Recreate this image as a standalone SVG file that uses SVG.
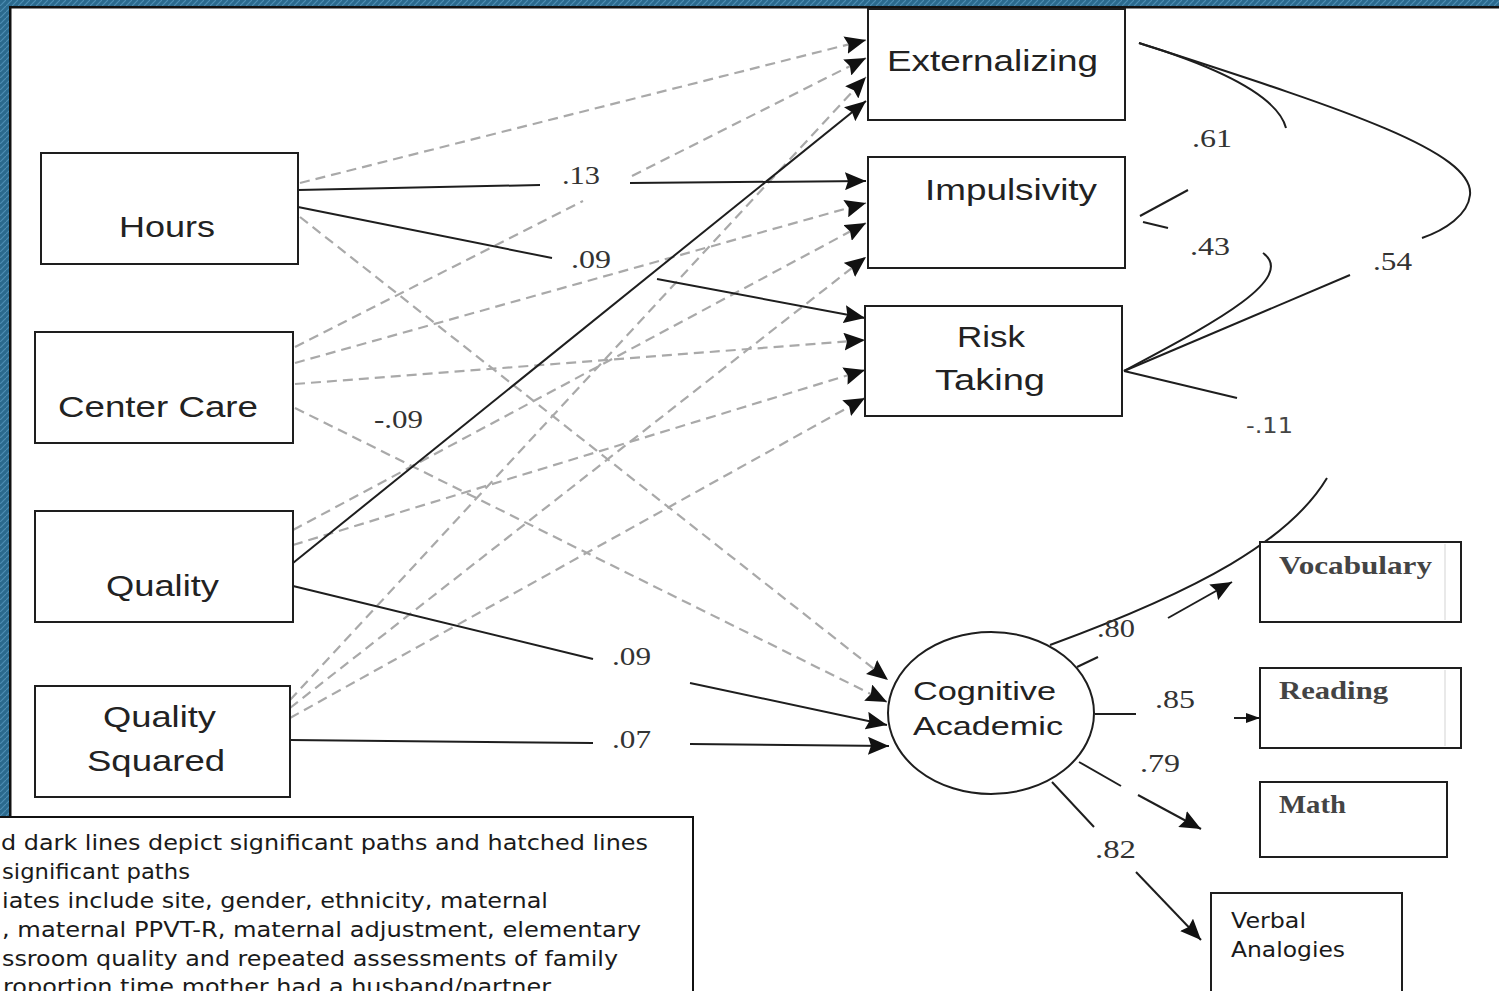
<svg xmlns="http://www.w3.org/2000/svg" width="1499" height="991" viewBox="0 0 1499 991">
<defs>
<pattern id="wv" width="6" height="6" patternUnits="userSpaceOnUse"><rect width="6" height="6" fill="#2b6a8e"/><path d="M0,6 L6,0" stroke="#4d8db3" stroke-width="1.2"/></pattern>
<marker id="ah" viewBox="0 0 21 18" refX="21" refY="9" markerWidth="21" markerHeight="18" markerUnits="userSpaceOnUse" orient="auto"><path d="M0,0 L21,9 L0,18 L3,9 z" fill="#111"/></marker>
<marker id="ahs" viewBox="0 0 14 10" refX="14" refY="5" markerWidth="14" markerHeight="10" markerUnits="userSpaceOnUse" orient="auto"><path d="M0,0 L14,5 L0,10 z" fill="#111"/></marker>
</defs>
<style>
.box{fill:#fff;stroke:#1e1e1e;stroke-width:2}
.nt{font-family:"Liberation Sans",Arial,sans-serif;font-size:29px;fill:#222}
.ot{font-family:"Liberation Serif","Times New Roman",serif;font-size:25px;font-weight:bold;fill:#444}
.vt{font-family:"DejaVu Sans",Verdana,sans-serif;font-size:22px;fill:#1a1a1a}
.lab{font-family:"Liberation Serif","Times New Roman",serif;font-size:25px;fill:#333}
.sol{fill:none;stroke:#1e1e1e;stroke-width:2}
.das{fill:none;stroke:#a9a9a9;stroke-width:2.2;stroke-dasharray:10 6}
.arr{marker-end:url(#ah)}
</style>
<rect width="1499" height="991" fill="#fff"/>
<g id="frame">
<rect x="0" y="0" width="1499" height="6" fill="url(#wv)"/>
<rect x="0" y="0" width="9" height="818" fill="url(#wv)"/>
<rect x="9" y="6" width="1490" height="2.5" fill="#111"/>
<rect x="9" y="6" width="2.5" height="812" fill="#111"/>
</g>
<g id="connectors">
<line class="das arr" x1="300" y1="183" x2="866" y2="40"/>
<line class="das arr" x1="300" y1="217" x2="888" y2="680"/>
<line class="das" x1="295" y1="347" x2="583" y2="201"/>
<line class="das arr" x1="632" y1="176" x2="866" y2="58"/>
<line class="das arr" x1="295" y1="363" x2="866" y2="203"/>
<line class="das arr" x1="295" y1="384" x2="865" y2="340"/>
<line class="das arr" x1="295" y1="408" x2="887" y2="702"/>
<line class="das arr" x1="293" y1="530" x2="866" y2="223"/>
<line class="das arr" x1="293" y1="545" x2="865" y2="370"/>
<line class="das arr" x1="290" y1="700" x2="866" y2="77"/>
<line class="das arr" x1="290" y1="708" x2="866" y2="257"/>
<line class="das arr" x1="290" y1="718" x2="865" y2="398"/>
<line class="sol" x1="298" y1="190" x2="540" y2="185"/>
<line class="sol arr" x1="630" y1="183" x2="866" y2="181"/>
<line class="sol" x1="298" y1="207" x2="552" y2="258"/>
<line class="sol arr" x1="657" y1="279" x2="865" y2="318"/>
<line class="sol arr" x1="293" y1="563" x2="866" y2="101"/>
<line class="sol" x1="293" y1="586" x2="593" y2="659"/>
<line class="sol arr" x1="690" y1="683" x2="887" y2="725"/>
<line class="sol" x1="290" y1="740" x2="593" y2="743"/>
<line class="sol arr" x1="690" y1="744" x2="889" y2="746"/>
<path class="sol" d="M1139,43 Q1275,85 1286,128"/>
<path class="sol" d="M1188,190 L1140,216"/>
<path class="sol" d="M1143,222 L1168,228"/>
<path class="sol" d="M1263,253 C1300,280 1200,330 1124,371"/>
<path class="sol" d="M1139,43 C1330,105 1475,150 1470,195 C1468,215 1445,230 1422,238"/>
<path class="sol" d="M1350,275 L1124,371"/>
<path class="sol" d="M1124,371 L1237,398"/>
<path class="sol" d="M1327,478 C1290,540 1200,590 1050,645"/>
<path class="sol" d="M1077,667 L1098,657"/>
<line class="sol arr" x1="1168" y1="618" x2="1232" y2="582"/>
<path class="sol" d="M1095,714 L1136,714"/>
<line class="sol" x1="1234" y1="718" x2="1260" y2="718" marker-end="url(#ahs)"/>
<path class="sol" d="M1079,762 L1121,786"/>
<line class="sol arr" x1="1138" y1="795" x2="1201" y2="829"/>
<path class="sol" d="M1052,782 L1094,827"/>
<line class="sol arr" x1="1136" y1="872" x2="1201" y2="940"/>
<text class="lab" x="562" y="184" textLength="38" lengthAdjust="spacingAndGlyphs">.13</text>
<text class="lab" x="571" y="268" textLength="40" lengthAdjust="spacingAndGlyphs">.09</text>
<text class="lab" x="374" y="428" textLength="49" lengthAdjust="spacingAndGlyphs">-.09</text>
<text class="lab" x="612" y="665" textLength="39" lengthAdjust="spacingAndGlyphs">.09</text>
<text class="lab" x="612" y="748" textLength="39" lengthAdjust="spacingAndGlyphs">.07</text>
<text class="lab" x="1192" y="147" textLength="40" lengthAdjust="spacingAndGlyphs">.61</text>
<text class="lab" x="1190" y="255" textLength="40" lengthAdjust="spacingAndGlyphs">.43</text>
<text class="lab" x="1373" y="270" textLength="39" lengthAdjust="spacingAndGlyphs">.54</text>
<text x="1246" y="433" style="font-family:'DejaVu Sans',Verdana,sans-serif;font-size:21px;fill:#444" textLength="47" lengthAdjust="spacingAndGlyphs">-.11</text>
<text class="lab" x="1097" y="637" textLength="38" lengthAdjust="spacingAndGlyphs">.80</text>
<text class="lab" x="1155" y="708" textLength="40" lengthAdjust="spacingAndGlyphs">.85</text>
<text class="lab" x="1140" y="772" textLength="40" lengthAdjust="spacingAndGlyphs">.79</text>
<text class="lab" x="1095" y="858" textLength="41" lengthAdjust="spacingAndGlyphs">.82</text>
</g>
<g id="node-externalizing">
<rect class="box" x="868" y="9" width="257" height="111"/>
<text class="nt" x="887" y="71" textLength="211" lengthAdjust="spacingAndGlyphs">Externalizing</text>
</g>
<g id="node-impulsivity">
<rect class="box" x="868" y="157" width="257" height="111"/>
<text class="nt" x="925" y="200" textLength="172" lengthAdjust="spacingAndGlyphs">Impulsivity</text>
</g>
<g id="node-risk-taking">
<rect class="box" x="865" y="306" width="257" height="110"/>
<text class="nt" x="957" y="347" textLength="68" lengthAdjust="spacingAndGlyphs">Risk</text>
<text class="nt" x="935" y="390" textLength="110" lengthAdjust="spacingAndGlyphs">Taking</text>
</g>
<g id="node-hours">
<rect class="box" x="41" y="153" width="257" height="111"/>
<text class="nt" x="119" y="237" textLength="96" lengthAdjust="spacingAndGlyphs">Hours</text>
</g>
<g id="node-center-care">
<rect class="box" x="35" y="332" width="258" height="111"/>
<text class="nt" x="58" y="417" textLength="200" lengthAdjust="spacingAndGlyphs">Center Care</text>
</g>
<g id="node-quality">
<rect class="box" x="35" y="511" width="258" height="111"/>
<text class="nt" x="106" y="596" textLength="113" lengthAdjust="spacingAndGlyphs">Quality</text>
</g>
<g id="node-quality-squared">
<rect class="box" x="35" y="686" width="255" height="111"/>
<text class="nt" x="103" y="727" textLength="113" lengthAdjust="spacingAndGlyphs">Quality</text>
<text class="nt" x="87" y="771" textLength="138" lengthAdjust="spacingAndGlyphs">Squared</text>
</g>
<g id="node-cognitive-academic">
<ellipse cx="991" cy="713" rx="103" ry="81" fill="#fff" stroke="#1e1e1e" stroke-width="2"/>
<text class="nt" x="913" y="700" style="font-size:26px" textLength="143" lengthAdjust="spacingAndGlyphs">Cognitive</text>
<text class="nt" x="913" y="735" style="font-size:26px" textLength="150" lengthAdjust="spacingAndGlyphs">Academic</text>
</g>
<g id="node-vocabulary">
<rect class="box" x="1260" y="542" width="201" height="80"/>
<line x1="1445" y1="544" x2="1445" y2="620" stroke="#e2e2e2" stroke-width="1.5"/>
<text class="ot" x="1279" y="574" textLength="153" lengthAdjust="spacingAndGlyphs">Vocabulary</text>
</g>
<g id="node-reading">
<rect class="box" x="1260" y="668" width="201" height="80"/>
<line x1="1445" y1="670" x2="1445" y2="746" stroke="#e2e2e2" stroke-width="1.5"/>
<text class="ot" x="1279" y="699" textLength="109" lengthAdjust="spacingAndGlyphs">Reading</text>
</g>
<g id="node-math">
<rect class="box" x="1260" y="782" width="187" height="75"/>
<text class="ot" x="1279" y="813" textLength="67" lengthAdjust="spacingAndGlyphs">Math</text>
</g>
<g id="node-verbal-analogies">
<rect class="box" x="1211" y="893" width="191" height="110"/>
<text class="vt" x="1231" y="928" textLength="75" lengthAdjust="spacingAndGlyphs">Verbal</text>
<text class="vt" x="1231" y="957" textLength="114" lengthAdjust="spacingAndGlyphs">Analogies</text>
</g>
<g id="legend">
<rect x="-2" y="817" width="695" height="190" fill="#fff" stroke="#111" stroke-width="2"/>
<text class="vt" x="1" y="850" textLength="647" lengthAdjust="spacingAndGlyphs">d dark lines depict significant paths and hatched lines</text>
<text class="vt" x="2" y="879" textLength="188" lengthAdjust="spacingAndGlyphs">significant paths</text>
<text class="vt" x="2" y="908" textLength="546" lengthAdjust="spacingAndGlyphs">iates include site, gender, ethnicity, maternal</text>
<text class="vt" x="2" y="937" textLength="639" lengthAdjust="spacingAndGlyphs">, maternal PPVT-R, maternal adjustment, elementary</text>
<text class="vt" x="2" y="966" textLength="616" lengthAdjust="spacingAndGlyphs">ssroom quality and repeated assessments of family</text>
<text class="vt" x="3" y="994" textLength="548" lengthAdjust="spacingAndGlyphs">roportion time mother had a husband/partner</text>
</g>
</svg>
